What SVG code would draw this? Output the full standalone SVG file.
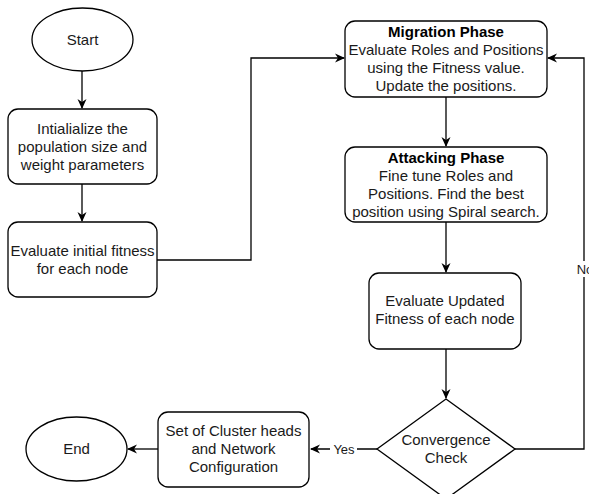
<svg xmlns="http://www.w3.org/2000/svg" width="589" height="494" viewBox="0 0 589 494">
<defs>
<marker id="arr" viewBox="0 0 10 10" refX="9" refY="5" markerWidth="10" markerHeight="10" markerUnits="userSpaceOnUse" orient="auto">
<path d="M0,0.5 L10,5 L0,9.5 L3,5 Z" fill="#000"/>
</marker>
<style>
.n{fill:#fff;stroke:#000;stroke-width:1.3}
.t{font-family:"Liberation Sans",Arial,sans-serif;font-size:15px;fill:#1a1a1a;text-anchor:middle}
.b{font-weight:bold;fill:#000}
.c{fill:none;stroke:#000;stroke-width:1.3;marker-end:url(#arr)}
.l{font-family:"Liberation Sans",Arial,sans-serif;font-size:13px;fill:#1a1a1a;text-anchor:middle}
</style>
</defs>
<rect width="589" height="494" fill="#fff"/>
<g id="connectors">
<path class="c" d="M82,71 V108"/>
<path class="c" d="M82,184 V221"/>
<path class="c" d="M157,260 H251 V58 H344"/>
<path class="c" d="M446,97 V146"/>
<path class="c" d="M446,222 V272"/>
<path class="c" d="M446,349 V398"/>
<path class="c" d="M515,449 H584 V58 H548"/>
<path class="c" d="M377,449 H311"/>
<path class="c" d="M158,449 H128"/>
<rect x="330" y="441" width="27" height="16" fill="#fff"/>
<text class="l" x="344" y="454">Yes</text>
<rect x="574" y="261" width="20" height="16" fill="#fff"/>
<text class="l" x="585" y="274">No</text>
</g>
<g id="start">
<ellipse class="n" cx="82.5" cy="39.5" rx="50.5" ry="31.5"/>
<text class="t" x="82.5" y="45">Start</text>
</g>
<g id="init">
<rect class="n" x="8" y="109" width="149" height="75" rx="10"/>
<text class="t" x="82.5" y="134">Intialialize the</text>
<text class="t" x="82.5" y="152">population size and</text>
<text class="t" x="82.5" y="170">weight parameters</text>
</g>
<g id="evalinit">
<rect class="n" x="8" y="222" width="149" height="75" rx="10"/>
<text class="t" x="82.5" y="256">Evaluate initial fitness</text>
<text class="t" x="82.5" y="274">for each node</text>
</g>
<g id="migration">
<rect class="n" x="345" y="21" width="202" height="76" rx="10"/>
<text class="t b" x="446" y="37">Migration Phase</text>
<text class="t" x="446" y="55">Evaluate Roles and Positions</text>
<text class="t" x="446" y="73">using the Fitness value.</text>
<text class="t" x="446" y="91">Update the positions.</text>
</g>
<g id="attacking">
<rect class="n" x="345" y="147" width="202" height="75" rx="10"/>
<text class="t b" x="446" y="163">Attacking Phase</text>
<text class="t" x="446" y="181">Fine tune Roles and</text>
<text class="t" x="446" y="199">Positions. Find the best</text>
<text class="t" x="446" y="217">position using Spiral search.</text>
</g>
<g id="evalupdated">
<rect class="n" x="369" y="273" width="152" height="76" rx="10"/>
<text class="t" x="445" y="306">Evaluate Updated</text>
<text class="t" x="445" y="324">Fitness of each node</text>
</g>
<g id="convergence">
<path class="n" d="M446,399 L515,449 L446,499 L377,449 Z"/>
<text class="t" x="446" y="445">Convergence</text>
<text class="t" x="446" y="463">Check</text>
</g>
<g id="clusterheads">
<rect class="n" x="158" y="412" width="151" height="75" rx="10"/>
<text class="t" x="233.5" y="436">Set of Cluster heads</text>
<text class="t" x="233.5" y="454">and Network</text>
<text class="t" x="233.5" y="472">Configuration</text>
</g>
<g id="end">
<ellipse class="n" cx="76.5" cy="449" rx="50.5" ry="32"/>
<text class="t" x="76.5" y="454">End</text>
</g>
</svg>
